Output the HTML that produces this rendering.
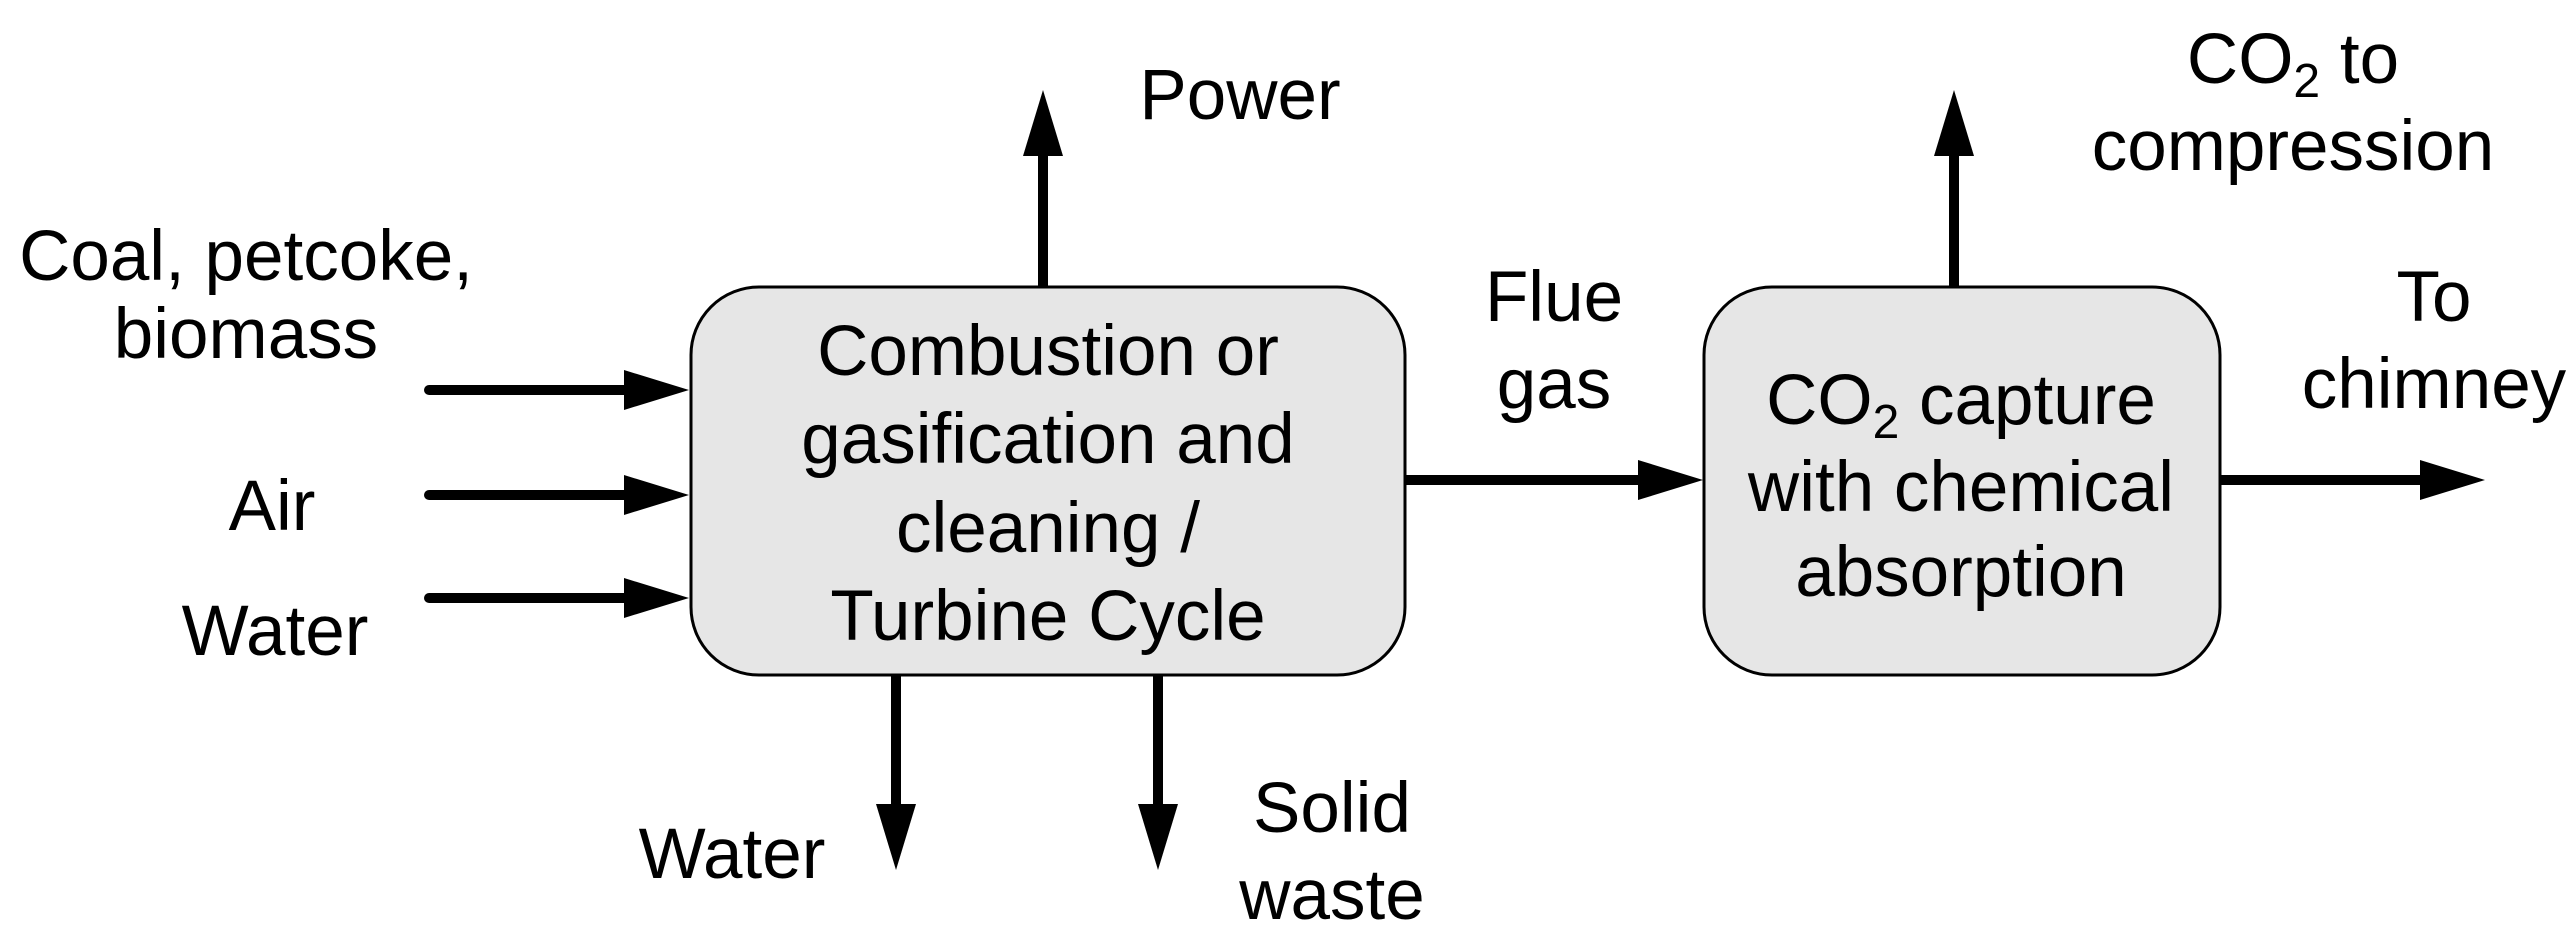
<!DOCTYPE html>
<html><head><meta charset="utf-8"><style>
html,body{margin:0;padding:0;background:#fff;}
svg{display:block;}
text{font-family:"Liberation Sans",Arial,sans-serif;font-size:71px;fill:#000;text-anchor:middle;}
</style></head><body>
<svg width="2568" height="936" viewBox="0 0 2568 936" xmlns="http://www.w3.org/2000/svg">
<rect x="691" y="287" width="714" height="388" rx="68" ry="68" fill="#e6e6e6" stroke="#000" stroke-width="3"/>
<rect x="1704" y="287" width="516" height="388" rx="68" ry="68" fill="#e6e6e6" stroke="#000" stroke-width="3"/>
<g stroke="#000" stroke-width="10" fill="none">
<line x1="429" y1="390" x2="630" y2="390"/>
<line x1="429" y1="495" x2="630" y2="495"/>
<line x1="429" y1="598" x2="630" y2="598"/>
<line x1="1043" y1="287" x2="1043" y2="150"/>
<line x1="896" y1="675" x2="896" y2="810"/>
<line x1="1158" y1="675" x2="1158" y2="810"/>
<line x1="1405" y1="480" x2="1645" y2="480"/>
<line x1="1954" y1="287" x2="1954" y2="150"/>
<line x1="2220" y1="480" x2="2425" y2="480"/>
</g>
<g fill="#000">
<polygon points="689,390 624,370 624,410"/>
<polygon points="689,495 624,475 624,515"/>
<polygon points="689,598 624,578 624,618"/>
<polygon points="1043,90 1023,156 1063,156"/>
<polygon points="896,870 876,804 916,804"/>
<polygon points="1158,870 1138,804 1178,804"/>
<polygon points="1703,480 1638,460 1638,500"/>
<polygon points="1954,90 1934,156 1974,156"/>
<polygon points="2485,480 2420,460 2420,500"/>
</g>
<g fill="#000">
<circle cx="429" cy="390" r="5"/><circle cx="429" cy="495" r="5"/><circle cx="429" cy="598" r="5"/>
</g>
<text x="1048" y="375">Combustion or</text>
<text x="1048" y="463">gasification and</text>
<text x="1048" y="552">cleaning /</text>
<text x="1048" y="640">Turbine Cycle</text>
<text x="1961" y="424">CO<tspan font-size="48" dy="14">2</tspan><tspan dy="-14"> capture</tspan></text>
<text x="1961" y="511">with chemical</text>
<text x="1961" y="596">absorption</text>
<text x="1240" y="119">Power</text>
<text x="246" y="280">Coal, petcoke,</text>
<text x="246" y="358">biomass</text>
<text x="272" y="530">Air</text>
<text x="275" y="655">Water</text>
<text x="1554" y="321">Flue</text>
<text x="1554" y="408">gas</text>
<text x="2293" y="83">CO<tspan font-size="48" dy="14">2</tspan><tspan dy="-14"> to</tspan></text>
<text x="2293" y="170">compression</text>
<text x="2434" y="321">To</text>
<text x="2434" y="408">chimney</text>
<text x="732" y="878">Water</text>
<text x="1332" y="832">Solid</text>
<text x="1332" y="919">waste</text>
</svg>
</body></html>
